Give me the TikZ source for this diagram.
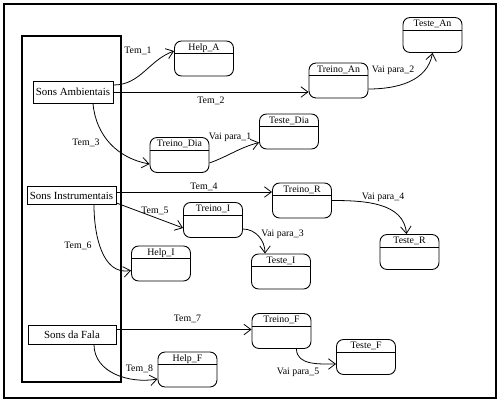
\documentclass[tikz,border=0pt]{standalone}
\usepackage{fontspec}
\setmainfont{Liberation Serif}
\usetikzlibrary{arrows.meta}
\begin{document}
\begin{tikzpicture}[x=0.02cm,y=-0.02cm,
  font=\fontsize{5.6}{6.5}\selectfont,
  frame/.style={draw, line width=0.9pt},
  group/.style={draw, line width=0.55pt, inner sep=1pt, fill=white, font=\fontsize{6.2}{7}\selectfont},
  state/.style={draw, line width=0.5pt, rounded corners=4pt,
    minimum width=1.18cm, minimum height=0.7cm, inner ysep=0pt,
    text height=5.3pt, text depth=14.5pt,
    path picture={\draw[line width=0.5pt] ([yshift=-7.2pt]path picture bounding box.north west) -- ([yshift=-7.2pt]path picture bounding box.north east);}},
  conn/.style={draw, line width=0.45pt, -{Straight Barb[length=4pt,width=6pt]}},
  lbl/.style={inner sep=0pt}]
\useasboundingbox (0,0) rectangle (500,403);
\draw[frame] (4,4) rectangle (496,398);
\draw[frame] (22,36) rectangle (121,382);
% group nodes
\node[group, minimum width=1.6cm, minimum height=0.44cm] (SA) at (73,92) {Sons Ambientais};
\node[group, minimum width=1.78cm, minimum height=0.35cm] (SI) at (71.5,195.5) {Sons Instrumentais};
\node[group, minimum width=1.76cm, minimum height=0.38cm] (SF) at (72,334.5) {Sons da Fala};
% states
\node[state] (HA) at (204,58.5) {Help\_A};
\node[state] (TA) at (338.5,80.5) {Treino\_An};
\node[state] (TeA) at (432.5,35) {Teste\_An};
\node[state] (TD) at (179.5,155) {Treino\_Dia};
\node[state] (TeD) at (289,131.5) {Teste\_Dia};
\node[state] (TR) at (302,200.5) {Treino\_R};
\node[state] (TI) at (213,220) {Treino\_I};
\node[state] (HI) at (161,263.5) {Help\_I};
\node[state] (TeI) at (281,271.5) {Teste\_I};
\node[state] (TeR) at (409.5,252) {Teste\_R};
\node[state] (TF) at (281.5,331) {Treino\_F};
\node[state] (TeF) at (366,357) {Teste\_F};
\node[state] (HF) at (187.5,369.5) {Help\_F};
% connectors
\draw[conn] ([yshift=0.14cm]SA.east) to[out=0,in=200] ([yshift=0.15cm]HA.west);
\draw[conn] (SA.east) -- (SA.east -| TA.west);
\draw[conn] ([xshift=0.4cm]SA.south) to[out=-85,in=170] ([yshift=-0.18cm]TD.west);
\draw[conn] ([yshift=-0.16cm]TD.east) to[out=20,in=195] ([yshift=-0.22cm]TeD.west);
\draw[conn] ([yshift=-0.17cm]TA.east) to[out=0,in=-100] (TeA.south);
\draw[conn] ([yshift=0.07cm]SI.east) -- ([yshift=0.07cm]SI.east -| TR.west);
\draw[conn] ([yshift=-0.15cm]SI.east) -- ([yshift=-0.16cm]TI.west);
\draw[conn] ([xshift=0.45cm]SI.south) to[out=-90,in=190] ([yshift=-0.14cm]HI.west);
\draw[conn] ([yshift=-0.18cm]TI.east) to[out=0,in=90] ([xshift=-0.32cm]TeI.north);
\draw[conn] (TR.east) to[out=0,in=95] ([xshift=-0.06cm]TeR.north);
\draw[conn] ([yshift=0.1cm]SF.east) -- ([yshift=0.1cm]SF.east -| TF.west);
\draw[conn] ([xshift=0.44cm]SF.south) to[out=-90,in=190] ([yshift=-0.19cm]HF.west);
\draw[conn] ([xshift=0.3cm]TF.south) to[out=-90,in=180] ([yshift=-0.14cm]TeF.west);
% labels
\node[lbl] (l1) at (138,51) {Tem\_1};
\node[lbl] (l2) at (211,101) {Tem\_2};
\node[lbl] (l3) at (86,143) {Tem\_3};
\node[lbl] (l4) at (204,187) {Tem\_4};
\node[lbl] (l5) at (155,211) {Tem\_5};
\node[lbl] (l6) at (78,246) {Tem\_6};
\node[lbl] (l7) at (187.5,319) {Tem\_7};
\node[lbl] (l8) at (139.5,369) {Tem\_8};
\node[lbl] (v1) at (230,137) {Vai para\_1};
\node[lbl] (v2) at (393,70) {Vai para\_2};
\node[lbl] (v3) at (282.5,234) {Vai para\_3};
\node[lbl] (v4) at (383,197) {Vai para\_4};
\node[lbl] (v5) at (298,372.5) {Vai para\_5};
\end{tikzpicture}
\end{document}
